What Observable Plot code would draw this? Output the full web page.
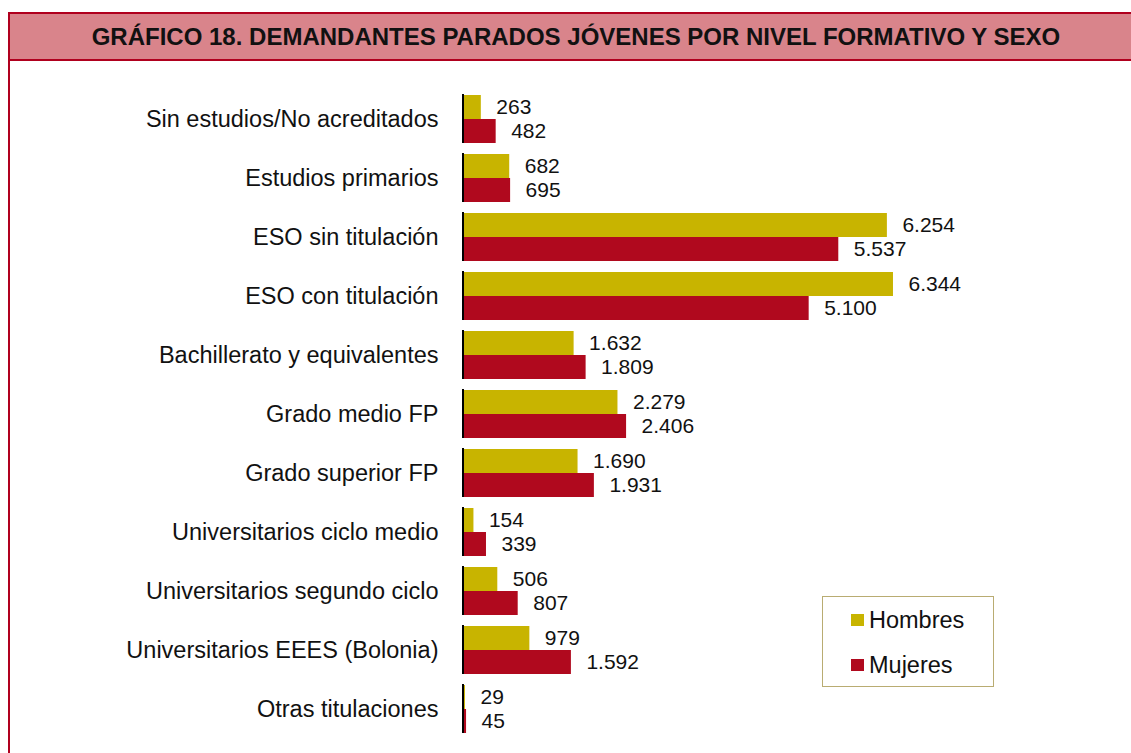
<!DOCTYPE html>
<html>
<head>
<meta charset="utf-8">
<script src="https://cdn.jsdelivr.net/npm/d3@7"></script>
<script src="https://cdn.jsdelivr.net/npm/@observablehq/plot@0.6"></script>
<style>
  html, body { margin: 0; padding: 0; background: #fff; overflow: hidden; }
  body { width: 1131px; height: 753px; position: relative; font-family: "Liberation Sans", Arial, sans-serif; }
  #frame { position: absolute; left: 8px; top: 12px; width: 1140px; height: 760px; border-left: 2px solid #B0001E; box-sizing: border-box; }
  #header { position: absolute; left: 8px; top: 12px; width: 1140px; height: 49px; box-sizing: border-box;
    border-top: 2px solid #B0001E; border-bottom: 2px solid #B0001E; border-left: 2px solid #B0001E; background: #D9848B; }
  #title { position: absolute; left: 8px; top: 12px; width: 1136px; height: 49px; line-height: 49px; text-align: center;
    font-weight: bold; font-size: 24px; color: #111; }
  #chart { position: absolute; left: 0; top: 61px; }
  #legend { position: absolute; left: 822px; top: 596px; width: 172px; height: 91px; box-sizing: border-box;
    border: 1.5px solid #B9AC72; background: #fff; }
  .item { position: absolute; left: 28px; font-size: 23.5px; color: #111; line-height: 24px; }
  .sw { position: absolute; width: 13px; height: 12px; left: 0; top: 6px; }
  .lab { position: absolute; left: 18px; top: 0; white-space: nowrap; }
</style>
</head>
<body>
<div id="frame"></div>
<div id="header"></div>
<div id="title">GRÁFICO 18. DEMANDANTES PARADOS JÓVENES POR NIVEL FORMATIVO Y SEXO</div>
<div id="chart"></div>
<div id="legend"></div>
<script>
const categories = [
  "Sin estudios/No acreditados",
  "Estudios primarios",
  "ESO sin titulación",
  "ESO con titulación",
  "Bachillerato y equivalentes",
  "Grado medio FP",
  "Grado superior FP",
  "Universitarios ciclo medio",
  "Universitarios segundo ciclo",
  "Universitarios EEES (Bolonia)",
  "Otras titulaciones"
];
const series = ["Hombres", "Mujeres"];
const hombres = [263, 682, 6254, 6344, 1632, 2279, 1690, 154, 506, 979, 29];
const mujeres = [482, 695, 5537, 5100, 1809, 2406, 1931, 339, 807, 1592, 45];
const colors = ["#C8B400", "#B0091E"];

const data = [];
categories.forEach((c, i) => {
  data.push({cat: c, sexo: series[0], value: hombres[i]});
  data.push({cat: c, sexo: series[1], value: mujeres[i]});
});

const loc = d3.formatLocale({decimal: ",", thousands: ".", grouping: [3], currency: ["", " €"]});
const fmt = loc.format(",d");

const chart = Plot.plot({
  width: 1131,
  height: 692,
  marginLeft: 463,
  marginRight: 58,
  marginTop: 26,
  marginBottom: 12,
  style: {fontFamily: "Liberation Sans, Arial, sans-serif", color: "#111", background: "transparent"},
  x: {domain: [0, 9000], axis: null},
  y: {domain: series, axis: null, padding: 0},
  fy: {domain: categories, paddingInner: 0.167, paddingOuter: 0.083, label: null},
  color: {domain: series, range: colors},
  axis: null,
  marks: [
    Plot.axisFy({anchor: "left", tickSize: 0, tickPadding: 25, fontSize: 23.5, label: null}),
    Plot.barX(data, {x: "value", y: "sexo", fy: "cat", fill: "sexo"}),
    Plot.text(data, {x: "value", y: "sexo", fy: "cat", text: d => fmt(d.value), textAnchor: "start", dx: 15, fontSize: 21, fill: "#111"}),
    Plot.ruleX([0], {stroke: "#000", strokeWidth: 2, dx: -0.5, facetAnchor: null, fy: null})
  ]
});
document.getElementById("chart").appendChild(chart);

const leg = document.getElementById("legend");
series.forEach((s, i) => {
  const it = document.createElement("div");
  it.className = "item";
  it.style.top = (i === 0 ? 11 : 56) + "px";
  it.innerHTML = `<span class="sw" style="background:${colors[i]}"></span><span class="lab">${s}</span>`;
  leg.appendChild(it);
});
</script>
</body>
</html>
